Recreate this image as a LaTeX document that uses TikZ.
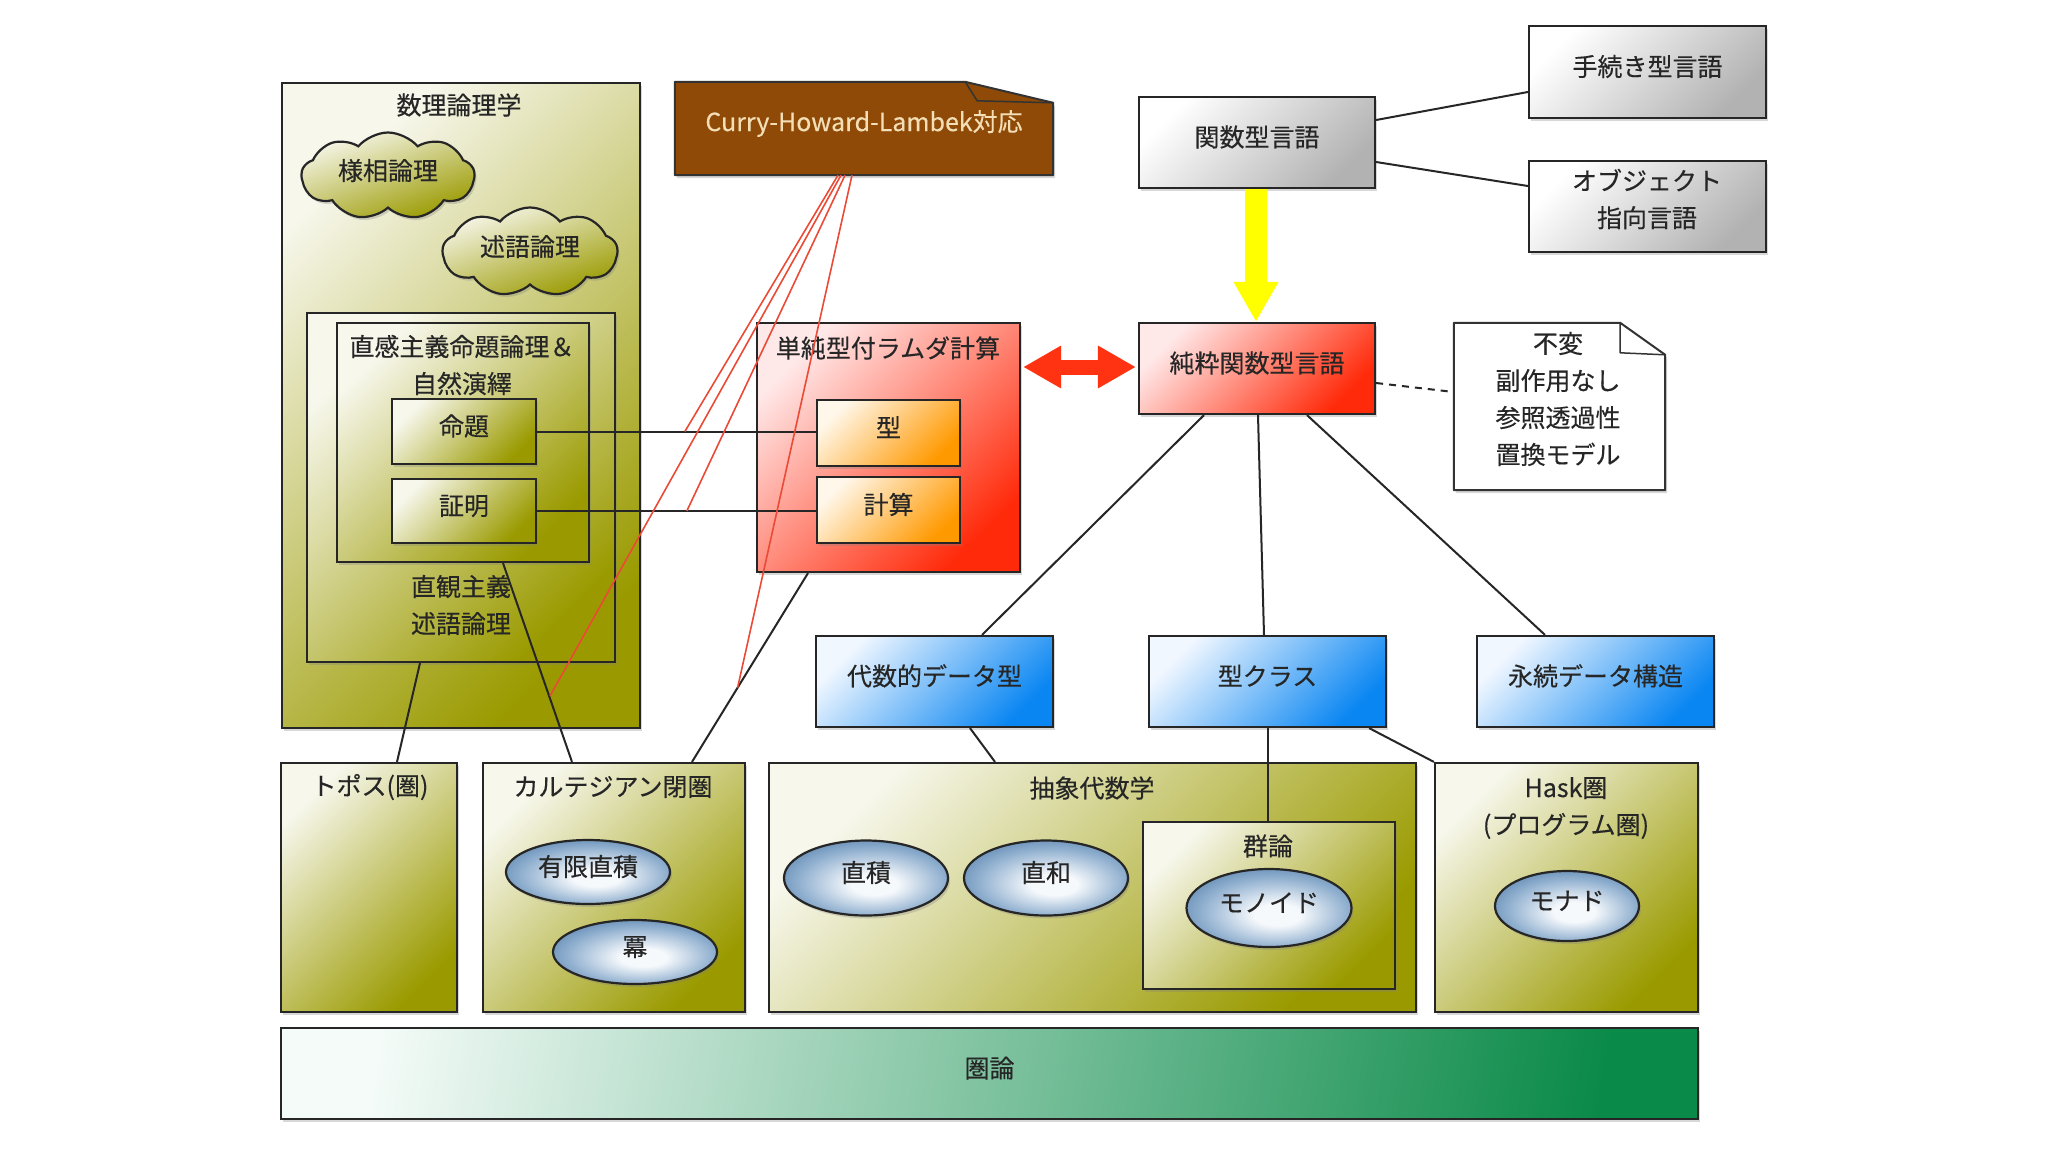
\documentclass[tikz,border=0pt]{standalone}
\usepackage{fontspec}
\setmainfont{Noto Sans CJK JP}[FakeBold=0.3]
\usetikzlibrary{shapes.geometric,shapes.symbols,shadows,arrows.meta,calc}
\newcommand{\jpf}{\fontsize{25}{37}\selectfont}
\definecolor{olivedk}{HTML}{9A9A00}
\definecolor{olivelt}{HTML}{F7F7EC}
\definecolor{redlt}{HTML}{FFE8E8}
\definecolor{reddk}{HTML}{FF2A0A}
\definecolor{orglt}{HTML}{FFF7EA}
\definecolor{orgdk}{HTML}{FF9900}
\definecolor{graylt}{HTML}{FFFFFF}
\definecolor{graydk}{HTML}{B2B2B2}
\definecolor{bluelt}{HTML}{F0F7FF}
\definecolor{bluedk}{HTML}{0A86F2}
\definecolor{greenlt}{HTML}{F4FBF8}
\definecolor{greendk}{HTML}{0A8A48}
\definecolor{ellblue}{HTML}{3A6C9C}
\definecolor{ellmid}{HTML}{92B1D0}
\definecolor{ellin}{HTML}{F6F9FC}
\definecolor{brownfill}{HTML}{8E4A06}
\definecolor{creamtxt}{HTML}{F3DEB6}
\definecolor{redline}{HTML}{EA4A36}
\definecolor{txt}{HTML}{262626}
\definecolor{yell}{HTML}{FFFF00}
\definecolor{arrred}{HTML}{FF3311}
\pgfdeclareradialshading{ellshade}{\pgfpoint{3bp}{-5bp}}{color(0bp)=(ellin); color(7bp)=(ellin); color(22bp)=(ellmid); color(37bp)=(ellblue); color(50bp)=(ellblue)}
\tikzset{
  shad/.style={drop shadow={shadow xshift=2pt, shadow yshift=-3pt, opacity=0.3}},
  base/.style={draw=black!85, line width=2.2pt, inner sep=0pt, font=\jpf, text=txt, align=center, text height=22pt, text depth=14pt, shad},
  olivebox/.style={base, rectangle, top color=olivelt, bottom color=olivedk, shading angle=45},
  redbox/.style={base, rectangle, top color=redlt, bottom color=reddk, shading angle=45},
  orangebox/.style={base, rectangle, top color=orglt, bottom color=orgdk, shading angle=45},
  graybox/.style={base, rectangle, top color=graylt, bottom color=graydk, shading angle=45},
  bluebox/.style={base, rectangle, top color=bluelt, bottom color=bluedk, shading angle=45},
  greenbox/.style={base, rectangle, left color=greenlt, right color=greendk, shading angle=80},
  ellnode/.style={base, ellipse, shading=ellshade},
  olivecloud/.style={base, cloud, cloud puffs=9, cloud puff arc=100, cloud ignores aspect, top color=olivelt, bottom color=olivedk, shading angle=20},
  txtnode/.style={font=\jpf, text=txt, align=center, inner sep=0pt},
  conn/.style={draw=black!85, line width=2pt},
  redl/.style={draw=redline, line width=1.6pt}
}
\begin{document}
\begin{tikzpicture}[x=1pt,y=-1pt]
\fill[white] (0,0) rectangle (2048,1152);
\useasboundingbox (0,0) rectangle (2048,1152);

% ---------- mathematical logic ----------
\node[olivebox, minimum width=358pt, minimum height=645pt] (logic) at (461,405.5) {};
\node[txtnode] (logict) at (459,105) {数理論理学};
\node[olivecloud, minimum width=173pt, minimum height=87pt] (modal) at (388,176) {様相論理};
\node[olivecloud, minimum width=175pt, minimum height=89pt] (pred) at (530,252) {述語論理};
\node[olivebox, minimum width=308pt, minimum height=349pt] (intpred) at (461,487.5) {};
\node[txtnode] (intpredt) at (461,605) {直観主義\\述語論理};
\node[olivebox, minimum width=252pt, minimum height=239pt] (intprop) at (463,442.5) {};
\node[txtnode] (intpropt) at (462,365) {直感主義命題論理＆\\自然演繹};
\node[olivebox, minimum width=144pt, minimum height=65pt] (prop) at (464,431.5) {命題};
\node[olivebox, minimum width=144pt, minimum height=64pt] (proof) at (464,511) {証明};

% ---------- Curry-Howard-Lambek ----------
\node[minimum width=378pt, minimum height=93pt, inner sep=0pt] (curry) at (864,128.5) {};
\filldraw[fill=brownfill, draw=black!80, line width=2pt, line join=round, shad]
  (curry.north west) -- ([xshift=-88pt]curry.north east) -- ([yshift=-21pt]curry.north east)
  -- (curry.south east) -- (curry.south west) -- cycle;
\draw[black!80, line width=1.5pt, line join=round] ([xshift=-88pt]curry.north east) -- ([xshift=-76pt,yshift=-19pt]curry.north east) -- ([yshift=-21pt]curry.north east);
\node[font=\jpf, text=creamtxt, inner sep=0pt] (curryt) at ([yshift=5pt]curry.center) {Curry-Howard-Lambek対応};

% ---------- simply typed lambda calculus ----------
\node[redbox, minimum width=263pt, minimum height=249pt] (stlc) at (888.5,447.5) {};
\node[txtnode] (stlct) at (888,348) {単純型付ラムダ計算};
\node[orangebox, minimum width=143pt, minimum height=66pt] (type) at (888.5,433) {型};
\node[orangebox, minimum width=143pt, minimum height=66pt] (calc) at (888.5,510) {計算};

% ---------- languages ----------
\node[graybox, minimum width=236pt, minimum height=91pt] (func) at (1257,142.5) {関数型言語};
\node[graybox, minimum width=237pt, minimum height=92pt] (proc) at (1647.5,72) {手続き型言語};
\node[graybox, minimum width=237pt, minimum height=91pt] (oop) at (1647.5,206.5) {};
\node[txtnode] (oopt) at (1647,199) {オブジェクト\\指向言語};
\node[redbox, minimum width=236pt, minimum height=91pt] (pure) at (1257,368.5) {純粋関数型言語};

% note
\node[minimum width=211pt, minimum height=167pt, inner sep=0pt] (note) at (1559.5,406.5) {};
\filldraw[fill=white, draw=black!80, line width=2pt, line join=round, shad]
  (note.north west) -- ([xshift=-45pt]note.north east) -- ([yshift=-32pt]note.north east)
  -- (note.south east) -- (note.south west) -- cycle;
\draw[black!80, line width=1.5pt, line join=round] ([xshift=-45pt]note.north east) -- ([xshift=-45pt,yshift=-30pt]note.north east) -- ([yshift=-32pt]note.north east);
\node[txtnode] (notet) at (1558,399) {不変\\副作用なし\\参照透過性\\置換モデル};

% ---------- Haskell features ----------
\node[bluebox, minimum width=237pt, minimum height=91pt] (adt) at (934.5,681.5) {代数的データ型};
\node[bluebox, minimum width=237pt, minimum height=91pt] (tc) at (1267.5,681.5) {型クラス};
\node[bluebox, minimum width=237pt, minimum height=91pt] (pds) at (1595.5,681.5) {永続データ構造};

% ---------- bottom row ----------
\node[olivebox, minimum width=176pt, minimum height=249pt] (topos) at (369,887.5) {};
\node[txtnode] (topost) at (370,787) {トポス(圏)};
\node[olivebox, minimum width=262pt, minimum height=249pt] (ccc) at (614,887.5) {};
\node[txtnode] (ccct) at (613,787) {カルテジアン閉圏};
\node[ellnode, minimum width=164pt, minimum height=64pt] (fp) at (588,872) {有限直積};
\node[ellnode, minimum width=164pt, minimum height=64pt] (pow) at (635,952) {冪};
\node[olivebox, minimum width=647pt, minimum height=249pt] (absalg) at (1092.5,887.5) {};
\node[txtnode] (absalgt) at (1092,788) {抽象代数学};
\node[ellnode, minimum width=164pt, minimum height=75pt] (dprod) at (866,878) {直積};
\node[ellnode, minimum width=164pt, minimum height=75pt] (dsum) at (1046,878) {直和};
\node[olivebox, minimum width=252pt, minimum height=167pt] (group) at (1269,905.5) {};
\node[txtnode] (groupt) at (1268,846) {群論};
\node[ellnode, minimum width=165pt, minimum height=78pt] (monoid) at (1269,908) {モノイド};
\node[olivebox, minimum width=263pt, minimum height=249pt] (hask) at (1566.5,887.5) {};
\node[txtnode] (haskt) at (1566,808) {Hask圏\\(プログラム圏)};
\node[ellnode, minimum width=144pt, minimum height=70pt] (monad) at (1567,906) {モナド};
\node[greenbox, minimum width=1417pt, minimum height=91pt] (cat) at (989.5,1073.5) {圏論};

% ---------- connectors ----------
\draw[conn] (prop.east) -- (prop.east -| type.west);
\draw[conn] (proof.east) -- (proof.east -| calc.west);
\draw[conn] ([xshift=-41pt]intpred.south) -- ([xshift=28pt]topos.north);
\draw[conn] ([xshift=40pt]intprop.south) -- ([xshift=-42pt]ccc.north);
\coordinate (s5a) at ([xshift=-80.5pt]stlc.south);
\coordinate (s5b) at ([xshift=78pt]ccc.north);
\draw[conn] (s5a) -- (s5b);
\draw[conn] ([yshift=22.5pt]func.east) -- ([yshift=-20pt]proc.west);
\draw[conn] ([yshift=-19.5pt]func.east) -- ([yshift=20.5pt]oop.west);
\draw[conn, dash pattern=on 7pt off 6pt] ([yshift=-14.5pt]pure.east) -- ([yshift=14.5pt]note.west);
\draw[conn] ([xshift=-53pt]pure.south) -- ([xshift=47.5pt]adt.north);
\draw[conn] ([xshift=1pt]pure.south) -- ([xshift=-3.5pt]tc.north);
\draw[conn] ([xshift=50pt]pure.south) -- ([xshift=-50.5pt]pds.north);
\draw[conn] ([xshift=35.5pt]adt.south) -- ([xshift=-97.5pt]absalg.north);
\draw[conn] (tc.south) -- (tc.south |- group.north);
\draw[conn] ([xshift=-18pt]tc.south east) -- (hask.north west);

% thick arrows
\draw[yell, line width=22pt, -{Triangle[width=42pt,length=40pt]}] ([xshift=-1pt]func.south) -- ([xshift=-1pt]pure.north);
\draw[arrred, line width=15pt, {Triangle[width=40pt,length=38pt]}-{Triangle[width=40pt,length=38pt]}] ([xshift=2pt,yshift=80.5pt]stlc.east) -- ([xshift=-2pt,yshift=1.5pt]pure.west);

% red correspondence lines
\coordinate (r1e) at ($(prop.east)!0.53!(prop.east -| type.west)$);
\coordinate (r2e) at ($(proof.east)!0.537!(proof.east -| calc.west)$);
\coordinate (r3e) at (550,696);
\coordinate (r4e) at ($(s5a)!0.607!(s5b)$);
\draw[redl] ([xshift=-26pt]curry.south) -- (r1e);
\draw[redl] ([xshift=-19pt]curry.south) -- (r2e);
\draw[redl] ([xshift=-23pt]curry.south) -- (r3e);
\draw[redl] ([xshift=-12pt]curry.south) -- (r4e);
\end{tikzpicture}
\end{document}
